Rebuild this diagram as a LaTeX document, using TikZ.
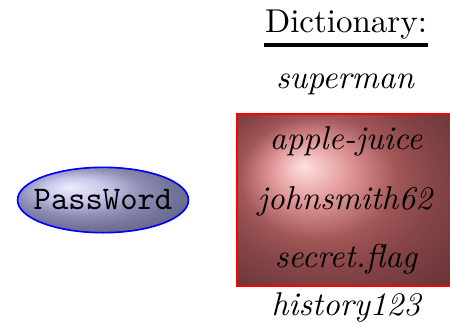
\documentclass[tikz,border=0pt]{standalone}
\usetikzlibrary{shapes.geometric}
\pgfdeclareradialshading{pwball}{\pgfpoint{-10bp}{10bp}}{%
  rgb(0bp)=(0.93,0.93,0.99);
  rgb(9bp)=(0.78,0.78,0.92);
  rgb(18bp)=(0.56,0.56,0.71);
  rgb(25bp)=(0.46,0.46,0.61);
  rgb(50bp)=(0.22,0.22,0.30)}
\pgfdeclareradialshading{dictball}{\pgfpoint{-10bp}{10bp}}{%
  rgb(0bp)=(1.0,0.88,0.88);
  rgb(9bp)=(0.88,0.59,0.59);
  rgb(18bp)=(0.63,0.34,0.34);
  rgb(25bp)=(0.53,0.27,0.28);
  rgb(50bp)=(0.27,0.14,0.15)}
\begin{document}
\begin{tikzpicture}[x=0.30303pt,y=-0.30303pt,
  word/.style={font=\itshape, anchor=base, inner sep=0pt},
  pw/.style={ellipse, draw=blue, line width=0.5pt, shade, shading=pwball,
    minimum width=51.8pt, minimum height=19.8pt, inner sep=0pt, font=\ttfamily},
  dictbox/.style={rectangle, draw=red, line width=0.6pt, shade, shading=dictball,
    minimum width=66pt, minimum height=51.9pt, inner sep=0pt}]
\useasboundingbox (0,0) rectangle (450,327);
\node[pw] (pass) at (103,200) {\makebox[0pt]{PassWord}};
\node[dictbox] (box) at (346,200) {};
\node[word, font=\upshape] (dict) at (346,32) {Dictionary:};
\draw[line width=1.2pt] (dict.base west) ++(0,13) coordinate (ul1) -- (dict.base east |- ul1) coordinate (ul2);
\node[word] (w1) at (345,88) {superman};
\node[word] (w2) at (346,149) {apple-juice};
\node[word] (w3) at (345,209) {johnsmith62};
\node[word] (w4) at (346,267) {secret.flag};
\node[word] (w5) at (346,315) {history123};
\end{tikzpicture}
\end{document}
